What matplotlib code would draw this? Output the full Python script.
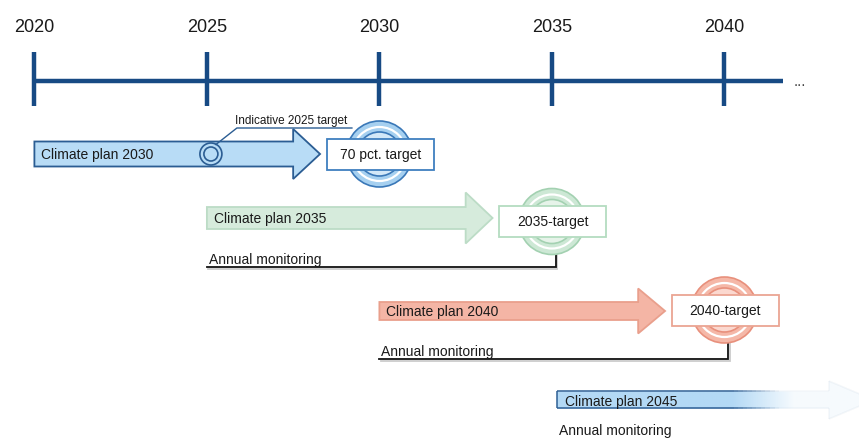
import numpy as np
import matplotlib
matplotlib.use("Agg")
import matplotlib.pyplot as plt
from matplotlib.patches import Polygon, Rectangle, Ellipse
from matplotlib.collections import LineCollection
import matplotlib.patheffects as pe

plt.rcParams["font.family"] = ["Liberation Sans", "DejaVu Sans"]

# ---- content ----
tick_years = [2020, 2025, 2030, 2035, 2040]
plan_labels = ["Climate plan 2030", "Climate plan 2035", "Climate plan 2040", "Climate plan 2045"]
plan_start = [2020, 2025, 2030, 2035]
target_labels = ["70 pct. target", "2035-target", "2040-target"]
target_years = [2030, 2035, 2040]
interim_label = "Indicative 2025 target"
interim_year = 2025
monitor_label = "Annual monitoring"

# ---- layout (x in years, y in pixel rows from the top) ----
W, H = 859, 439
PX = 34.5                      # pixels per year
X_REF, X_REF_PX = 2030, 379.4
x_left = X_REF - X_REF_PX / PX
x_right = X_REF + (W - X_REF_PX) / PX


def yrs(px):
    return px / PX


row_y = [155, 219, 312, 401]
body_half = [12.5, 11, 9, 8.5]
head_half = [25, 25.5, 22.5, 19]
body_len = 7.5
head_len = 0.78
box_y = [155, 222.5, 311]
box_w, box_h = yrs(107), 31
ring_r = 33
monitor_y = [268, 360]

navy = "#174a84"
txt = "#1a1a1a"
fills = ["#b8dcf6", "#d6ebdc", "#f4b5a5"]
edges = ["#2b5d93", "#bcdcc6", "#e99f8c"]
box_edges = ["#3f7fbf", "#b4dcc0", "#eba593"]
ring_fill = ["#a6d0f0", "#cde8d5", "#f5b8a8"]
ring_inner = ["#d3e8f8", "#e6f3e9", "#fbd8cf"]
ring_edge = ["#3a78b8", "#a3d1b1", "#e8907c"]

fig = plt.figure(figsize=(W / 100, H / 100), dpi=100)
ax = fig.add_axes([0, 0, 1, 1])
ax.set_xlim(x_left, x_right)
ax.set_ylim(H, 0)
ax.axis("off")

# ---- timeline ----
line_end = 2030 + (783 - X_REF_PX) / PX
ax.plot([tick_years[0], line_end], [82, 82], color=navy, lw=3.2,
        solid_capstyle="butt", zorder=2)
for yv in tick_years:
    ax.plot([yv, yv], [53, 107], color=navy, lw=3.2, solid_capstyle="butt", zorder=3)
    ax.text(yv, 32.5, str(yv), ha="center", va="baseline", fontsize=13, color=txt)
ax.text(line_end + yrs(17), 82, "...", ha="center", va="center", fontsize=11, color="#444444")


def arrow_poly(x0, yc, bh, hh, blen, hlen):
    return [(x0, yc - bh), (x0 + blen, yc - bh), (x0 + blen, yc - hh),
            (x0 + blen + hlen, yc), (x0 + blen, yc + hh), (x0 + blen, yc + bh),
            (x0, yc + bh)]


def rings(xc, yc, i):
    w = lambda r: 2 * yrs(r)
    ax.add_patch(Ellipse((xc, yc), w(ring_r), 2 * ring_r, fc=ring_fill[i],
                         ec=ring_edge[i], lw=1.2, zorder=4))
    ax.add_patch(Ellipse((xc, yc), w(ring_r - 6), 2 * (ring_r - 6), fc=ring_fill[i],
                         ec="white", lw=1.6, zorder=4))
    ax.add_patch(Ellipse((xc, yc), w(ring_r - 11), 2 * (ring_r - 11), fc=ring_inner[i],
                         ec=ring_edge[i], lw=1.2, zorder=4))
    ax.add_patch(Ellipse((xc, yc), w(ring_r - 18), 2 * (ring_r - 18), fc=ring_fill[i],
                         ec="none", zorder=4))


# ---- plan arrows with targets ----
for i in range(3):
    x0 = plan_start[i]
    ax.add_patch(Polygon(arrow_poly(x0, row_y[i], body_half[i], head_half[i],
                                    body_len, head_len),
                         closed=True, fc=fills[i], ec=edges[i], lw=1.3, zorder=3))
    ax.text(x0 + yrs(7), row_y[i], plan_labels[i], ha="left", va="center",
            fontsize=10, color=txt, zorder=5)

    tx = target_years[i]
    rings(tx, box_y[i], i)
    ax.add_patch(Rectangle((tx + yrs(1) - box_w / 2, box_y[i] - box_h / 2), box_w, box_h,
                           fc="white", ec=box_edges[i], lw=1.3, zorder=5))
    ax.text(tx + yrs(1), box_y[i], target_labels[i], ha="center", va="center",
            fontsize=10, color=txt, zorder=6)

# ---- indicative 2025 marker ----
ix = interim_year + yrs(4)
iy = row_y[0]
for r in (11, 7):
    ax.add_patch(Ellipse((ix, iy), 2 * yrs(r), 2 * r, fc=fills[0], ec=edges[0],
                         lw=1.2, zorder=4))
lead_x = [ix + yrs(5), ix + yrs(26), ix + yrs(141)]
lead_y = [iy - 9.5, 129, 129]
ax.plot(lead_x, lead_y, color=edges[0], lw=1.0, zorder=4)
ax.text(lead_x[1] - yrs(2), 124.5, interim_label, ha="left", va="baseline",
        fontsize=8.5, color=txt, zorder=5)

# ---- annual monitoring brackets ----
shadow = [pe.SimpleLineShadow(offset=(0.8, -1.6), shadow_color="#999999", alpha=0.5),
          pe.Normal()]
for k, i in enumerate((1, 2)):
    x0 = plan_start[i]
    xe = target_years[i] + yrs(4)
    my = monitor_y[k]
    ax.plot([x0, xe, xe], [my, my, box_y[i] + ring_r - 2], color="#111111", lw=1.3,
            solid_joinstyle="miter", zorder=3, path_effects=shadow)
    ax.text(x0 + yrs(2), my - 4, monitor_label, ha="left", va="baseline",
            fontsize=10, color=txt, zorder=5)

# ---- open-ended 2045 plan (fading arrow) ----
x0 = plan_start[3] + yrs(5)
yc = row_y[3]
blen4 = yrs(272)
hlen4 = yrs(45)
poly4 = Polygon(arrow_poly(x0, yc, body_half[3], head_half[3], blen4, hlen4),
                closed=True, fc="none", ec="none", zorder=3)
ax.add_patch(poly4)
xs = np.linspace(x0, x0 + blen4 + hlen4, 400)
alpha = np.clip(1 - (xs - (x0 + yrs(175))) / yrs(70), 0.12, 1.0)
base = np.array(matplotlib.colors.to_rgb("#b3d9f5"))
img = np.zeros((2, len(xs), 4))
img[..., :3] = base
img[..., 3] = alpha
im = ax.imshow(img, extent=[xs[0], xs[-1], yc + head_half[3], yc - head_half[3]],
               aspect="auto", interpolation="bilinear", zorder=3)
im.set_clip_path(poly4)

# outline fading with the fill
edge_pts = arrow_poly(x0, yc, body_half[3], head_half[3], blen4, hlen4)
segs, cols = [], []
ecol = np.array(matplotlib.colors.to_rgb("#2b5d93"))
for (ax0, ay0), (ax1, ay1) in zip(edge_pts, edge_pts[1:] + edge_pts[:1]):
    n = 60
    tt = np.linspace(0, 1, n + 1)
    px = ax0 + (ax1 - ax0) * tt
    py = ay0 + (ay1 - ay0) * tt
    for j in range(n):
        xm = 0.5 * (px[j] + px[j + 1])
        a = np.clip(1 - (xm - (x0 + yrs(175))) / yrs(50), 0.05, 1.0)
        segs.append([(px[j], py[j]), (px[j + 1], py[j + 1])])
        cols.append((*ecol, a * 0.9))
ax.add_collection(LineCollection(segs, colors=cols, lw=1.2, zorder=4))
ax.text(x0 + yrs(8), yc + 1, plan_labels[3], ha="left", va="center",
        fontsize=10, color=txt, zorder=5)
ax.text(x0 + yrs(2), 435, monitor_label, ha="left", va="baseline",
        fontsize=10, color=txt, zorder=5)

ax.set_xlim(x_left, x_right)
ax.set_ylim(H, 0)
fig.savefig("out.png", dpi=100, facecolor="white")
